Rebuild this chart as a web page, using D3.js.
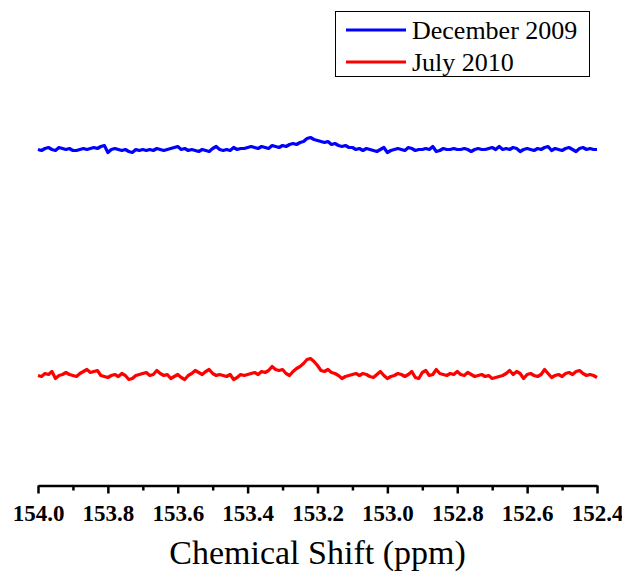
<!DOCTYPE html>
<html>
<head>
<meta charset="utf-8">
<script src="https://cdn.jsdelivr.net/npm/d3@7"></script>
<style>
  html, body { margin: 0; padding: 0; background: #fff; }
  svg { display: block; }
</style>
</head>
<body>
<svg id="chart" width="622" height="573"></svg>
<script>
// 13C NMR spectra, 154.0 – 152.4 ppm, sampled every 0.01 ppm
const ppmStart = 154.0;
const ppmStep = -0.01;

// December 2009 intensities (arbitrary units, baseline ≈ 0)
const december2009 = [
  0, -1, 1, 2, 0, -1, 2, 1, 0, 1,
  -1, -1, 0, 1, 0, 1, 2, 1, 3, 4,
  -3, 0, 1, 0, -1, 0, -2, -3, 0, -1,
  0, -1, 0, -1, 1, 0, -1, 0, 1, 2,
  3, 0, 1, -1, 0, -1, -2, 0, -1, -2,
  1, 3, 0, -1, 0, -1, 2, 0, 1, 1,
  2, 3, 2, 1, 3, 2, 1, 4, 3, 2,
  4, 3, 5, 6, 5, 7, 8, 11, 12, 10,
  9, 8, 7, 8, 5, 6, 4, 3, 4, 2,
  2, 0, 1, -1, 1, 0, -1, -2, 0, 2,
  -3, -1, 0, 1, 0, -1, 2, 1, -1, 0,
  0, 1, 0, 3, -2, -1, 1, 0, 0, 1,
  0, 0, 1, 0, -2, 0, 1, 0, 0, 1,
  2, 0, 3, 0, 1, 0, 2, 1, -2, 0,
  1, 0, -1, 1, 0, 2, 3, -1, 1, 0,
  -1, 1, 2, 0, -2, 1, 2, 0, 1, 0, 0
];

// July 2010 intensities (arbitrary units, baseline ≈ 0)
const july2010 = [
  0, -1, 2, 1, 4, -3, 0, 1, 3, 1,
  0, -1, 2, 4, 6, 3, 4, 5, 0, -1,
  -2, 0, 1, -1, 2, 0, -4, -3, 0, 1,
  2, 3, 0, 1, 5, 2, 0, 1, -3, -1,
  1, -2, -4, 0, 2, 5, 3, 1, 4, 6,
  2, 0, 1, 0, -1, 1, -4, -2, 1, 0,
  1, 2, 3, 1, 4, 3, 5, 9, 6, 5,
  6, 2, 0, 4, 7, 9, 12, 16, 17, 14,
  10, 5, 4, 6, 3, 2, 0, -3, -1, 0,
  1, 2, 0, 2, 1, -1, -2, 1, 4, 0,
  -3, -1, 0, 2, 1, -1, 1, 4, -2, -3,
  3, 5, 0, 1, 6, 2, 1, 0, 2, 1,
  4, 1, 0, 3, 1, -1, 0, 1, -1, 0,
  -3, -2, -1, 0, 2, 5, 1, 4, 2, -3,
  1, 2, 0, -1, 1, 6, 2, -2, 0, 1,
  -1, 2, 3, 1, 4, 5, 2, 0, 1, 0, -2
];

// Vertical offsets used to stack the two traces
const seriesNames = ["December 2009", "July 2010"];
const seriesColors = ["#0000ff", "#ff0000"];
const seriesOffsets = [336, 110];
const seriesValues = [december2009, july2010];

const majorTicks = [154.0, 153.8, 153.6, 153.4, 153.2, 153.0, 152.8, 152.6, 152.4];
const minorTicks = [153.9, 153.7, 153.5, 153.3, 153.1, 152.9, 152.7, 152.5];

const SERIF = '"Liberation Serif", "Times New Roman", Times, serif';

const svg = d3.select("#chart");
const margin = { left: 38, right: 25, top: 5, bottom: 87 };
const W = 622, H = 573;
const axisY = H - margin.bottom - 0.5;

const x = d3.scaleLinear().domain([154.0, 152.4]).range([margin.left, W - margin.right]);
const y = d3.scaleLinear().domain([0, 481]).range([axisY, axisY - 481]);

const line = d3.line()
  .x(d => x(d.ppm))
  .y(d => y(d.v));

seriesValues.forEach((vals, k) => {
  const pts = vals.map((v, i) => ({ ppm: ppmStart + i * ppmStep, v: v + seriesOffsets[k] }));
  svg.append("path")
    .datum(pts)
    .attr("fill", "none")
    .attr("stroke", seriesColors[k])
    .attr("stroke-width", 3.2)
    .attr("stroke-linejoin", "round")
    .attr("d", line);
});

// Bottom axis: labelled major ticks plus unlabelled minor ticks
const axisG = svg.append("g").attr("transform", `translate(0,${axisY})`);
axisG.call(d3.axisBottom(x).tickValues(majorTicks).tickSize(8).tickSizeOuter(0)
  .tickFormat(d3.format(".1f")))
  .attr("font-family", SERIF)
  .attr("font-size", 23)
  .call(g => g.select(".domain").attr("stroke", "#000").attr("stroke-width", 2.5))
  .call(g => g.selectAll(".tick line").attr("stroke", "#000").attr("stroke-width", 2.5))
  .call(g => g.selectAll(".tick text")
    .attr("y", 19).attr("dy", "0.71em")
    .attr("font-family", SERIF)
    .attr("font-size", 23)
    .attr("font-weight", "bold")
    .attr("fill", "#000"));

axisG.append("g").call(d3.axisBottom(x).tickValues(minorTicks).tickSize(5).tickFormat(""))
  .call(g => g.select(".domain").remove())
  .call(g => g.selectAll(".tick line").attr("stroke", "#000").attr("stroke-width", 2.5));

// Axis title
svg.append("text")
  .attr("x", (x.range()[0] + x.range()[1]) / 2)
  .attr("y", 564)
  .attr("text-anchor", "middle")
  .attr("font-family", SERIF)
  .attr("font-size", 34)
  .attr("fill", "#000")
  .text("Chemical Shift (ppm)");

// Legend
const legend = svg.append("g");
legend.append("rect")
  .attr("x", 335.5).attr("y", 11.5).attr("width", 254).attr("height", 65)
  .attr("fill", "#fff").attr("stroke", "#000").attr("stroke-width", 1);
const legendRows = [30, 62];
seriesNames.forEach((name, k) => {
  legend.append("line")
    .attr("x1", 346).attr("x2", 406)
    .attr("y1", legendRows[k]).attr("y2", legendRows[k])
    .attr("stroke", seriesColors[k]).attr("stroke-width", 3);
  legend.append("text")
    .attr("x", 412).attr("y", legendRows[k] + 9)
    .attr("font-family", SERIF)
    .attr("font-size", 26)
    .attr("fill", "#000")
    .text(name);
});
</script>
</body>
</html>
